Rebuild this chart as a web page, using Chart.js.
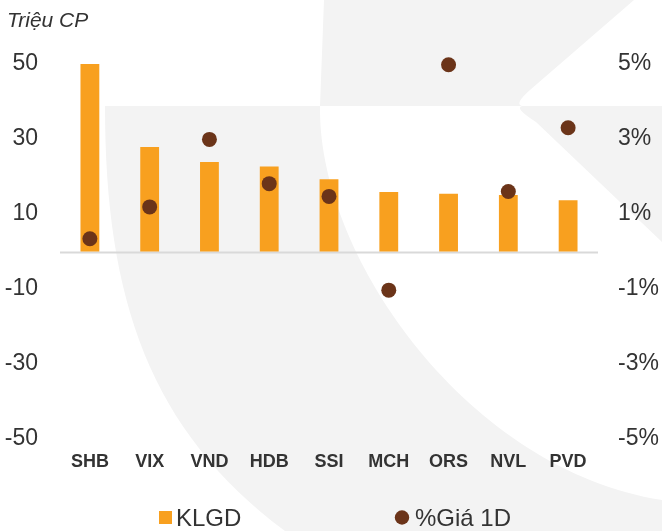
<!DOCTYPE html>
<html><head><meta charset="utf-8">
<script src="https://cdn.jsdelivr.net/npm/chart.js@4.4.1/dist/chart.umd.min.js"></script>
<style>html,body{margin:0;padding:0;background:#fff;}</style>
</head><body>
<canvas id="c" width="662" height="531"></canvas>
<script>
const categories = ['SHB','VIX','VND','HDB','SSI','MCH','ORS','NVL','PVD'];
const klgd = [50, 27.9, 23.9, 22.7, 19.3, 15.9, 15.4, 15.1, 13.7];
const giaPct = [0.34, 1.19, 2.99, 1.81, 1.47, -1.03, 4.98, 1.6, 3.3];
const leftTicks = [-50, -30, -10, 10, 30, 50];
const rightTicks = [-5, -3, -1, 1, 3, 5];
const axisTitle = 'Triệu CP';
const seriesNames = ['KLGD', '%Giá 1D'];

const FONT = "'Liberation Sans', Arial, sans-serif";
const BAR_COLOR = '#F8A01F';
const DOT_COLOR = '#6B3419';
const TEXT = '#333333';
Chart.defaults.font.family = FONT;

const watermark = {
  id: 'watermark',
  beforeDraw(chart) {
    const ctx = chart.ctx;
    ctx.save();
    ctx.fillStyle = '#f3f3f3';
    // top region
    ctx.beginPath();
    ctx.moveTo(324, 0);
    ctx.lineTo(634, 0);
    ctx.lineTo(530, 90);
    ctx.quadraticCurveTo(514, 104, 522, 106);
    ctx.lineTo(320, 106);
    ctx.closePath();
    ctx.fill();
    // right triangle
    ctx.beginPath();
    ctx.moveTo(522, 106);
    ctx.lineTo(662, 106);
    ctx.lineTo(662, 242);
    ctx.lineTo(536, 122);
    ctx.quadraticCurveTo(514, 108, 522, 106);
    ctx.closePath();
    ctx.fill();
    // band
    ctx.beginPath();
    ctx.moveTo(105, 106);
    ctx.bezierCurveTo(105, 300, 150, 430, 285, 531);
    ctx.lineTo(662, 531);
    ctx.lineTo(662, 500);
    ctx.bezierCurveTo(470, 470, 320, 260, 320, 110);
    ctx.lineTo(320, 106);
    ctx.closePath();
    ctx.fill();
    ctx.restore();
  }
};

const zeroLine = {
  id: 'zeroLine',
  beforeDatasetsDraw(chart) {
    const {ctx, chartArea, scales} = chart;
    const y = Math.round(scales.y.getPixelForValue(0)) + 0.5;
    ctx.save();
    ctx.strokeStyle = '#d9d9d9';
    ctx.lineWidth = 2;
    ctx.beginPath();
    ctx.moveTo(chartArea.left, y);
    ctx.lineTo(chartArea.right, y);
    ctx.stroke();
    ctx.restore();
  }
};

const texts = {
  id: 'texts',
  afterDraw(chart) {
    const ctx = chart.ctx;
    ctx.save();
    ctx.fillStyle = TEXT;
    ctx.textBaseline = 'alphabetic';
    ctx.textAlign = 'left';
    ctx.font = 'italic 21px ' + FONT;
    ctx.fillText(axisTitle, 7, 27);
    // legend
    const ds = chart.data.datasets;
    ctx.font = '24px ' + FONT;
    ctx.fillStyle = ds[0].backgroundColor;
    ctx.fillRect(159, 511, 13, 13);
    ctx.fillStyle = TEXT;
    ctx.fillText(ds[0].label, 176, 526);
    ctx.fillStyle = ds[1].pointBackgroundColor;
    ctx.beginPath();
    ctx.arc(402, 517.5, 7.2, 0, Math.PI * 2);
    ctx.fill();
    ctx.fillStyle = TEXT;
    ctx.fillText(ds[1].label, 415, 526);
    ctx.restore();
  }
};

new Chart(document.getElementById('c'), {
  data: {
    labels: categories,
    datasets: [
      {
        type: 'bar', label: seriesNames[0], data: klgd, yAxisID: 'y',
        backgroundColor: BAR_COLOR, borderWidth: 0,
        categoryPercentage: 1, barPercentage: 0.315, order: 1
      },
      {
        type: 'line', label: seriesNames[1], data: giaPct, yAxisID: 'y1',
        showLine: false, pointRadius: 7.5, pointHoverRadius: 7.5,
        pointBackgroundColor: DOT_COLOR, pointBorderWidth: 0,
        borderColor: DOT_COLOR, backgroundColor: DOT_COLOR, order: 0,
        clip: false
      }
    ]
  },
  options: {
    responsive: false, animation: false, devicePixelRatio: 1,
    layout: { padding: { top: 64, left: 0, right: 0, bottom: 0 } },
    plugins: { legend: { display: false }, tooltip: { enabled: false } },
    scales: {
      x: {
        grid: { display: false, drawTicks: false }, border: { display: false },
        ticks: { font: { size: 18, weight: 'bold' }, color: TEXT, padding: 12 },
        afterFit(s) { s.height = 92; }
      },
      y: {
        position: 'left', min: -50, max: 50,
        grid: { display: false, drawTicks: false }, border: { display: false },
        ticks: { font: { size: 23 }, color: TEXT, padding: 22 },
        afterBuildTicks(s) { s.ticks = leftTicks.map(v => ({ value: v })); },
        afterFit(s) { s.width = 60; }
      },
      y1: {
        position: 'right', min: -5, max: 5,
        grid: { display: false, drawTicks: false }, border: { display: false },
        ticks: { font: { size: 23 }, color: TEXT, padding: 20, callback: v => v + '%' },
        afterBuildTicks(s) { s.ticks = rightTicks.map(v => ({ value: v })); },
        afterFit(s) { s.width = 64; }
      }
    }
  },
  plugins: [watermark, zeroLine, texts]
});
</script>
</body></html>
